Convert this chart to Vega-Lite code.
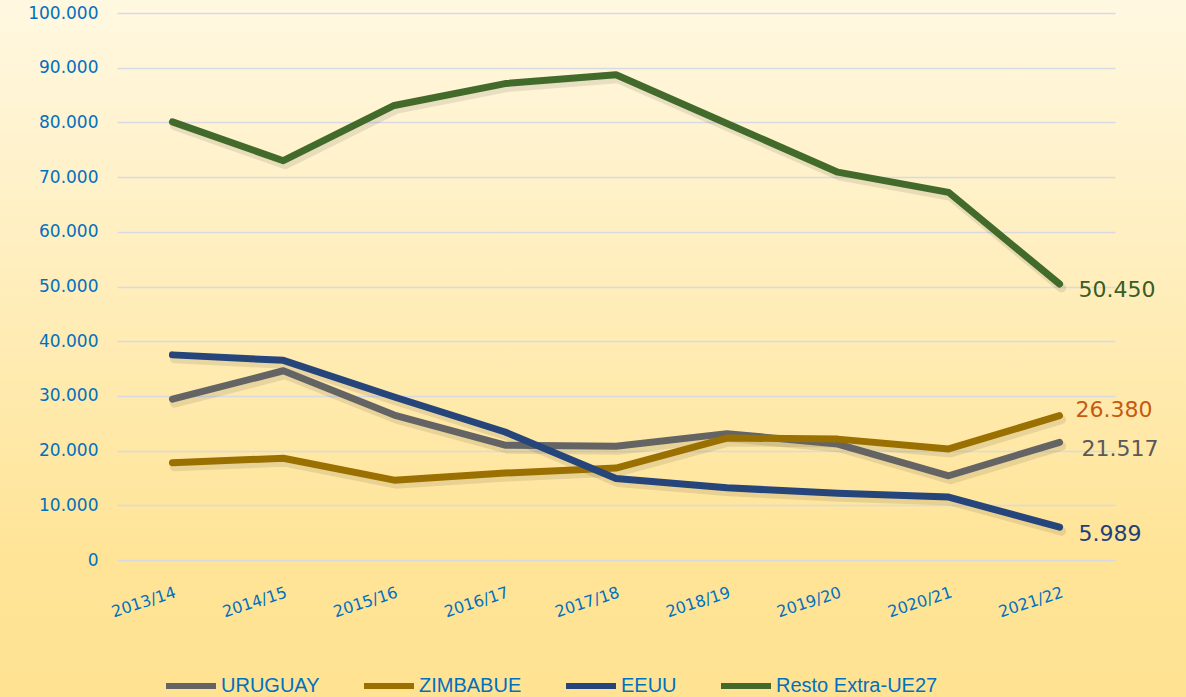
{
  "$schema": "https://vega.github.io/schema/vega-lite/v6.json",
  "width": 1186,
  "height": 697,
  "autosize": {"type": "none"},
  "padding": 0,
  "background": "#FFE494",
  "view": {
    "stroke": null,
    "fill": {
      "gradient": "linear",
      "x1": 0, "y1": 0, "x2": 0, "y2": 1,
      "stops": [
        {"offset": 0, "color": "#FFF8E1"},
        {"offset": 0.8, "color": "#FFE497"},
        {"offset": 1, "color": "#FFE393"}
      ]
    }
  },
  "config": {
    "locale": {
      "number": {"decimal": ",", "thousands": ".", "grouping": [3], "currency": ["", "\u00a0€"]}
    }
  },
  "data": {
    "values": [
      {"year": "2013/14", "series": "URUGUAY", "value": 29400},
      {"year": "2014/15", "series": "URUGUAY", "value": 34600},
      {"year": "2015/16", "series": "URUGUAY", "value": 26500},
      {"year": "2016/17", "series": "URUGUAY", "value": 21000},
      {"year": "2017/18", "series": "URUGUAY", "value": 20800},
      {"year": "2018/19", "series": "URUGUAY", "value": 23100},
      {"year": "2019/20", "series": "URUGUAY", "value": 21200},
      {"year": "2020/21", "series": "URUGUAY", "value": 15400},
      {"year": "2021/22", "series": "URUGUAY", "value": 21517},
      {"year": "2013/14", "series": "ZIMBABUE", "value": 17800},
      {"year": "2014/15", "series": "ZIMBABUE", "value": 18600},
      {"year": "2015/16", "series": "ZIMBABUE", "value": 14600},
      {"year": "2016/17", "series": "ZIMBABUE", "value": 15900},
      {"year": "2017/18", "series": "ZIMBABUE", "value": 16800},
      {"year": "2018/19", "series": "ZIMBABUE", "value": 22300},
      {"year": "2019/20", "series": "ZIMBABUE", "value": 22100},
      {"year": "2020/21", "series": "ZIMBABUE", "value": 20300},
      {"year": "2021/22", "series": "ZIMBABUE", "value": 26380},
      {"year": "2013/14", "series": "EEUU", "value": 37500},
      {"year": "2014/15", "series": "EEUU", "value": 36500},
      {"year": "2015/16", "series": "EEUU", "value": 29800},
      {"year": "2016/17", "series": "EEUU", "value": 23400},
      {"year": "2017/18", "series": "EEUU", "value": 14900},
      {"year": "2018/19", "series": "EEUU", "value": 13200},
      {"year": "2019/20", "series": "EEUU", "value": 12200},
      {"year": "2020/21", "series": "EEUU", "value": 11500},
      {"year": "2021/22", "series": "EEUU", "value": 5989},
      {"year": "2013/14", "series": "Resto Extra-UE27", "value": 80100},
      {"year": "2014/15", "series": "Resto Extra-UE27", "value": 73000},
      {"year": "2015/16", "series": "Resto Extra-UE27", "value": 83100},
      {"year": "2016/17", "series": "Resto Extra-UE27", "value": 87100},
      {"year": "2017/18", "series": "Resto Extra-UE27", "value": 88700},
      {"year": "2018/19", "series": "Resto Extra-UE27", "value": 79800},
      {"year": "2019/20", "series": "Resto Extra-UE27", "value": 70900},
      {"year": "2020/21", "series": "Resto Extra-UE27", "value": 67200},
      {"year": "2021/22", "series": "Resto Extra-UE27", "value": 50450}
    ]
  },
  "encoding": {
    "x": {
      "field": "year", "type": "ordinal",
      "scale": {"type": "point", "padding": 0.5, "range": [117, 1115]},
      "axis": {
        "title": null, "domain": false, "ticks": false, "grid": false, "offset": -137,
        "labelAngle": -18, "labelPadding": 24, "labelFont": "DejaVu Sans",
        "labelFontSize": 16, "labelColor": "#0070C0", "labelAlign": "right", "labelBaseline": "top"
      }
    },
    "y": {
      "field": "value", "type": "quantitative",
      "scale": {"domain": [0, 100000], "nice": false, "range": [560, 13]},
      "axis": {
        "title": null, "domain": false, "ticks": false, "offset": -117,
        "values": [0, 10000, 20000, 30000, 40000, 50000, 60000, 70000, 80000, 90000, 100000],
        "labelOverlap": false,
        "format": ",d", "labelFont": "DejaVu Sans", "labelFontSize": 17,
        "labelColor": "#0070C0", "labelPadding": 19,
        "gridColor": "#D7DAE2", "gridWidth": 1.5
      }
    }
  },
  "layer": [
    {
      "mark": {"type": "line", "strokeWidth": 9, "strokeCap": "round", "strokeJoin": "round", "color": "#000000", "opacity": 0.09, "xOffset": 2, "yOffset": 4},
      "encoding": {"detail": {"field": "series"}}
    },
    {
      "mark": {"type": "line", "strokeWidth": 7, "strokeCap": "round", "strokeJoin": "round"},
      "encoding": {
        "color": {
          "field": "series", "type": "nominal",
          "scale": {
            "domain": ["URUGUAY", "ZIMBABUE", "EEUU", "Resto Extra-UE27"],
            "range": ["#646464", "#9A7100", "#26457B", "#416A2B"]
          },
          "legend": {
            "title": null, "orient": "none", "legendX": 163, "legendY": 658, "direction": "horizontal",
            "symbolType": "stroke", "symbolSize": 2500, "symbolStrokeWidth": 6,
            "labelFont": "Liberation Sans", "labelFontSize": 20, "labelColor": "#0070C0",
            "labelOffset": 2, "columnPadding": 32, "labelLimit": 300
          }
        }
      }
    },
    {
      "transform": [{"filter": "datum.year == '2021/22' && datum.series == 'Resto Extra-UE27'"}],
      "mark": {"type": "text", "align": "left", "baseline": "middle", "dx": 19, "dy": 6, "font": "DejaVu Sans", "fontSize": 22, "fill": "#3A5D25"},
      "encoding": {"text": {"field": "value", "type": "quantitative", "format": ",d"}}
    },
    {
      "transform": [{"filter": "datum.year == '2021/22' && datum.series == 'ZIMBABUE'"}],
      "mark": {"type": "text", "align": "left", "baseline": "middle", "dx": 16, "dy": -6, "font": "DejaVu Sans", "fontSize": 22, "fill": "#C55A11"},
      "encoding": {"text": {"field": "value", "type": "quantitative", "format": ",d"}}
    },
    {
      "transform": [{"filter": "datum.year == '2021/22' && datum.series == 'URUGUAY'"}],
      "mark": {"type": "text", "align": "left", "baseline": "middle", "dx": 22, "dy": 7, "font": "DejaVu Sans", "fontSize": 22, "fill": "#595959"},
      "encoding": {"text": {"field": "value", "type": "quantitative", "format": ",d"}}
    },
    {
      "transform": [{"filter": "datum.year == '2021/22' && datum.series == 'EEUU'"}],
      "mark": {"type": "text", "align": "left", "baseline": "middle", "dx": 19, "dy": 7, "font": "DejaVu Sans", "fontSize": 22, "fill": "#21407A"},
      "encoding": {"text": {"field": "value", "type": "quantitative", "format": ",d"}}
    }
  ]
}
